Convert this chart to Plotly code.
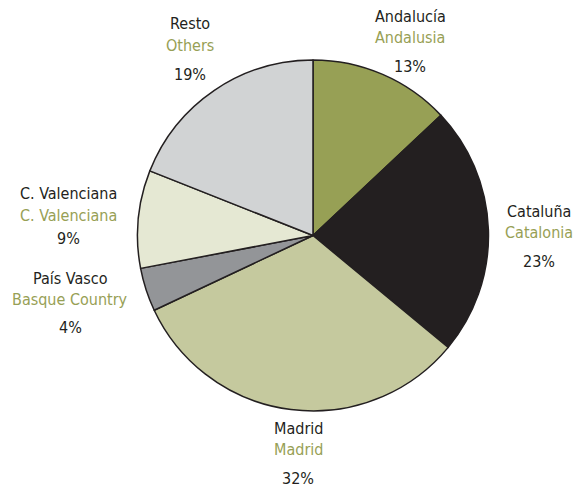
import plotly.graph_objects as go

regions_es = ["Andalucía", "Cataluña", "Madrid", "País Vasco", "C. Valenciana", "Resto"]
regions_en = ["Andalusia", "Catalonia", "Madrid", "Basque Country", "C. Valenciana", "Others"]
shares = [13, 23, 32, 4, 9, 19]

colors = ["#97a055", "#231f20", "#c5c99e", "#939598", "#e5e8d3", "#d1d3d4"]
# label anchor positions in pixels (x centre, y of each of the three lines)
label_pos = [(410, 16, 37, 66), (539, 211, 232, 261), (298, 428, 449, 478),
             (70, 278, 299, 327), (68, 193, 215, 238), (190, 23, 46, 75)]

W, H = 578, 493
FONT = "DejaVu Sans Condensed, Liberation Sans Narrow, sans-serif"

fig = go.Figure(go.Pie(
    labels=regions_es, values=shares, sort=False, direction="clockwise", rotation=0,
    marker=dict(colors=colors, line=dict(color="#231f20", width=1.5)),
    textinfo="none", showlegend=False,
    domain=dict(x=[137 / W, 489 / W], y=[1 - 411 / H, 1 - 60 / H]),
))

anns = []
for es, en, v, (x, y1, y2, y3) in zip(regions_es, regions_en, shares, label_pos):
    for txt, yy, col in [(es, y1, "#231f20"), (en, y2, "#97a055"), (f"{v}%", y3, "#231f20")]:
        anns.append(dict(text=txt, x=x / W, y=1 - yy / H, xref="paper", yref="paper",
                         xanchor="center", yanchor="middle", showarrow=False,
                         font=dict(family=FONT, size=16, color=col)))

fig.update_layout(width=W, height=H, margin=dict(l=0, r=0, t=0, b=0),
                  paper_bgcolor="white", plot_bgcolor="white", annotations=anns)
fig.write_html("out.html", config={"displayModeBar": False},
               post_script="document.body.style.margin='0';")
